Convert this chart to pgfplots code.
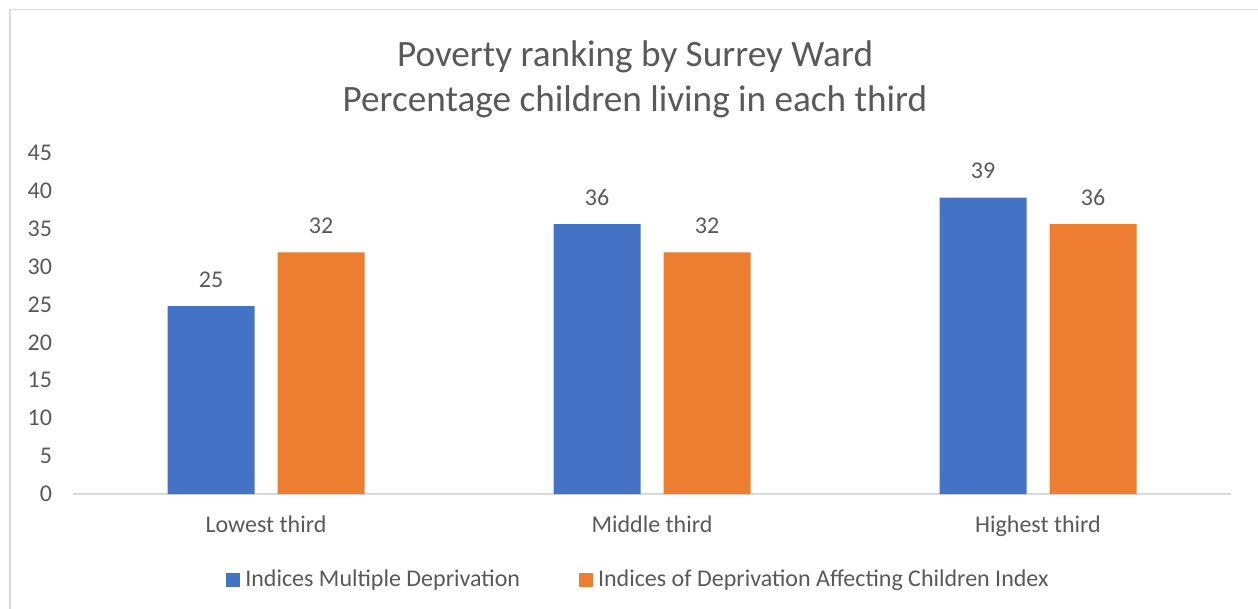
\documentclass[border=0pt]{standalone}
\usepackage{fontspec}
\setmainfont{Carlito}
\usepackage{pgfplots}
\pgfplotsset{compat=1.18}
\definecolor{txt}{HTML}{595959}
\definecolor{cblue}{HTML}{4472C4}
\definecolor{corange}{HTML}{ED7D31}
\definecolor{gridc}{HTML}{D9D9D9}
\pgfplotstableread{
x y
0 24.8
1 35.6
2 39.1
}\imd
\pgfplotstableread{
x y
0 31.9
1 31.9
2 35.6
}\idaci
\begin{document}
\begin{tikzpicture}
\begin{scope}[x=0.5pt,y=-0.5pt]
\useasboundingbox (0,0) rectangle (1258,609);
\draw[gridc, line width=0.75pt] (10,609) -- (10,9.5) -- (1258,9.5);
\node[txt, anchor=base, font=\fontsize{18.6}{22}\selectfont] at (635,67) {Poverty ranking by Surrey Ward};
\node[txt, anchor=base, font=\fontsize{18.6}{22}\selectfont] at (635,112) {Percentage children living in each third};
\end{scope}
\begin{axis}[
  at={(36.5pt,-247pt)}, anchor=south west,
  scale only axis, width=579pt, height=170.5pt,
  xmin=-0.5, xmax=2.5, ymin=0, ymax=45,
  ytick={0,5,...,45},
  xtick={0,1,2},
  xticklabels={Lowest third, Middle third, Highest third},
  axis x line*=bottom, axis y line*=left,
  x axis line style={draw=gridc, line width=0.75pt},
  y axis line style={draw=none},
  major tick length=0pt,
  /pgf/number format/assume math mode=true,
  ticklabel style={txt, font=\fontsize{12}{14}\selectfont},
  yticklabel style={anchor=east, xshift=-7pt},
  xticklabel style={anchor=base, yshift=-19pt},
  ybar=11.5pt, bar width=43.5pt,
  nodes near coords={\pgfmathprintnumber[fixed,precision=0]{\pgfplotspointmeta}},
  nodes near coords style={txt, font=\fontsize{12}{14}\selectfont, anchor=base, yshift=9.5pt},
  legend style={at={(axis description cs:0.4896,-0.2522)}, anchor=center, draw=none,
    legend columns=2, font=\fontsize{12}{14}\selectfont, text=txt,
    /tikz/every even column/.append style={column sep=27pt},
    nodes={inner xsep=2.5pt}},
  legend image code/.code={\fill[#1] (0pt,-3.5pt) rectangle (7pt,3.5pt);},
  clip=false,
]
\addplot[fill=cblue, draw=none] table[x=x,y=y] {\imd};
\addplot[fill=corange, draw=none] table[x=x,y=y] {\idaci};
\legend{Indices Multiple Deprivation, Indices of Deprivation Affecting Children Index}
\end{axis}
\end{tikzpicture}
\end{document}
